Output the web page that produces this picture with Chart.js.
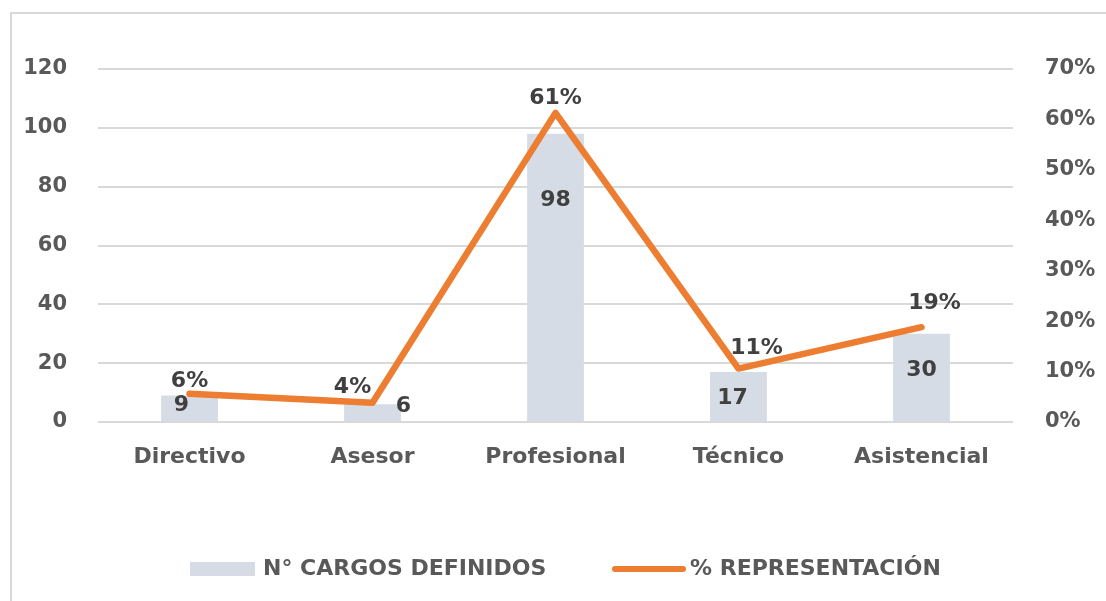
<!DOCTYPE html>
<html>
<head>
<meta charset="utf-8">
<script src="https://cdn.jsdelivr.net/npm/chart.js@4/dist/chart.umd.min.js"></script>
<style>
  html, body { margin: 0; padding: 0; background: #fff; }
  #wrap { width: 1106px; height: 601px; }
</style>
</head>
<body>
<div id="wrap"><canvas id="chart" width="1106" height="601"></canvas></div>
<script>
const categories = ['Directivo', 'Asesor', 'Profesional', 'Técnico', 'Asistencial'];
const cargos = [9, 6, 98, 17, 30];
const representacion = [5.6, 3.8, 61.3, 10.6, 18.8];
const representacionLabels = ['6%', '4%', '61%', '11%', '19%'];
const leftTicks = [0, 20, 40, 60, 80, 100, 120];
const rightTicks = [0, 10, 20, 30, 40, 50, 60, 70];

const FONT = '"DejaVu Sans", Verdana, sans-serif';
const GREY = '#595959';
const BAR = '#d6dce5';
const ORANGE = '#ed7d31';

// manual label nudges (pixels), like the hand-placed labels in the original
const barLabelOffset = [[-8, 10], [31, 2], [0, 67], [-6, 26], [0, 37]];
const lineLabelOffset = [[0, -12], [-20, -16], [0, -15], [18, -20], [13, -24]];

const labelsPlugin = {
  id: 'labels',
  beforeDraw(chart) {
    const ctx = chart.ctx;
    ctx.save();
    ctx.strokeStyle = '#d9d9d9';
    ctx.lineWidth = 2;
    ctx.strokeRect(11, 13, 1200, 700);
    ctx.restore();
  },
  afterDatasetsDraw(chart) {
    const ctx = chart.ctx;
    ctx.save();
    ctx.font = 'bold 22px ' + FONT;
    ctx.fillStyle = '#404040';
    ctx.textAlign = 'center';
    ctx.textBaseline = 'middle';
    chart.getDatasetMeta(1).data.forEach((bar, i) => {
      const [dx, dy] = barLabelOffset[i];
      ctx.fillText(String(cargos[i]), bar.x + dx, bar.y + dy);
    });
    chart.getDatasetMeta(0).data.forEach((pt, i) => {
      const [dx, dy] = lineLabelOffset[i];
      ctx.fillText(representacionLabels[i], pt.x + dx, pt.y + dy);
    });

    // legend
    ctx.font = 'bold 22px ' + FONT;
    ctx.textAlign = 'left';
    const ly = 569;
    ctx.fillStyle = BAR;
    ctx.fillRect(190, ly - 7, 65, 14);
    ctx.fillStyle = GREY;
    ctx.fillText(chart.data.datasets[1].label, 263, ly);
    ctx.strokeStyle = ORANGE;
    ctx.lineWidth = 6;
    ctx.lineCap = 'round';
    ctx.beginPath();
    ctx.moveTo(615, ly);
    ctx.lineTo(683, ly);
    ctx.stroke();
    ctx.fillText(chart.data.datasets[0].label, 690, ly);
    ctx.restore();
  }
};

new Chart(document.getElementById('chart').getContext('2d'), {
  type: 'bar',
  data: {
    labels: categories,
    datasets: [{
      type: 'line',
      label: '% REPRESENTACIÓN',
      data: representacion,
      yAxisID: 'y1',
      borderColor: ORANGE,
      borderWidth: 6.5,
      borderCapStyle: 'round',
      borderJoinStyle: 'round',
      pointRadius: 0,
      tension: 0,
      order: 0
    }, {
      type: 'bar',
      label: 'N° CARGOS DEFINIDOS',
      data: cargos,
      yAxisID: 'y',
      backgroundColor: BAR,
      barPercentage: 0.31,
      categoryPercentage: 1,
      order: 1
    }]
  },
  options: {
    responsive: false,
    animation: false,
    layout: { padding: { top: 69, left: 0, right: 0, bottom: 0 } },
    plugins: { legend: { display: false }, tooltip: { enabled: false } },
    scales: {
      x: {
        grid: { display: false },
        border: { display: false },
        ticks: { color: GREY, font: { family: FONT, size: 22, weight: 'bold' }, padding: 14 },
        afterFit(s) { s.height = 179; }
      },
      y: {
        position: 'left',
        min: 0,
        max: 120,
        afterBuildTicks(s) { s.ticks = leftTicks.map(v => ({ value: v })); },
        grid: { color: '#d9d9d9', lineWidth: 2, drawTicks: false },
        border: { display: false },
        ticks: { color: GREY, font: { family: FONT, size: 21, weight: 'bold' }, padding: 31 },
        afterFit(s) { s.width = 98; }
      },
      y1: {
        position: 'right',
        min: 0,
        max: 70,
        afterBuildTicks(s) { s.ticks = rightTicks.map(v => ({ value: v })); },
        grid: { display: false, drawTicks: false },
        border: { display: false },
        ticks: {
          color: GREY,
          font: { family: FONT, size: 21, weight: 'bold' },
          padding: 32,
          callback: v => v + '%'
        },
        afterFit(s) { s.width = 93; }
      }
    }
  },
  plugins: [labelsPlugin]
});
</script>
</body>
</html>
